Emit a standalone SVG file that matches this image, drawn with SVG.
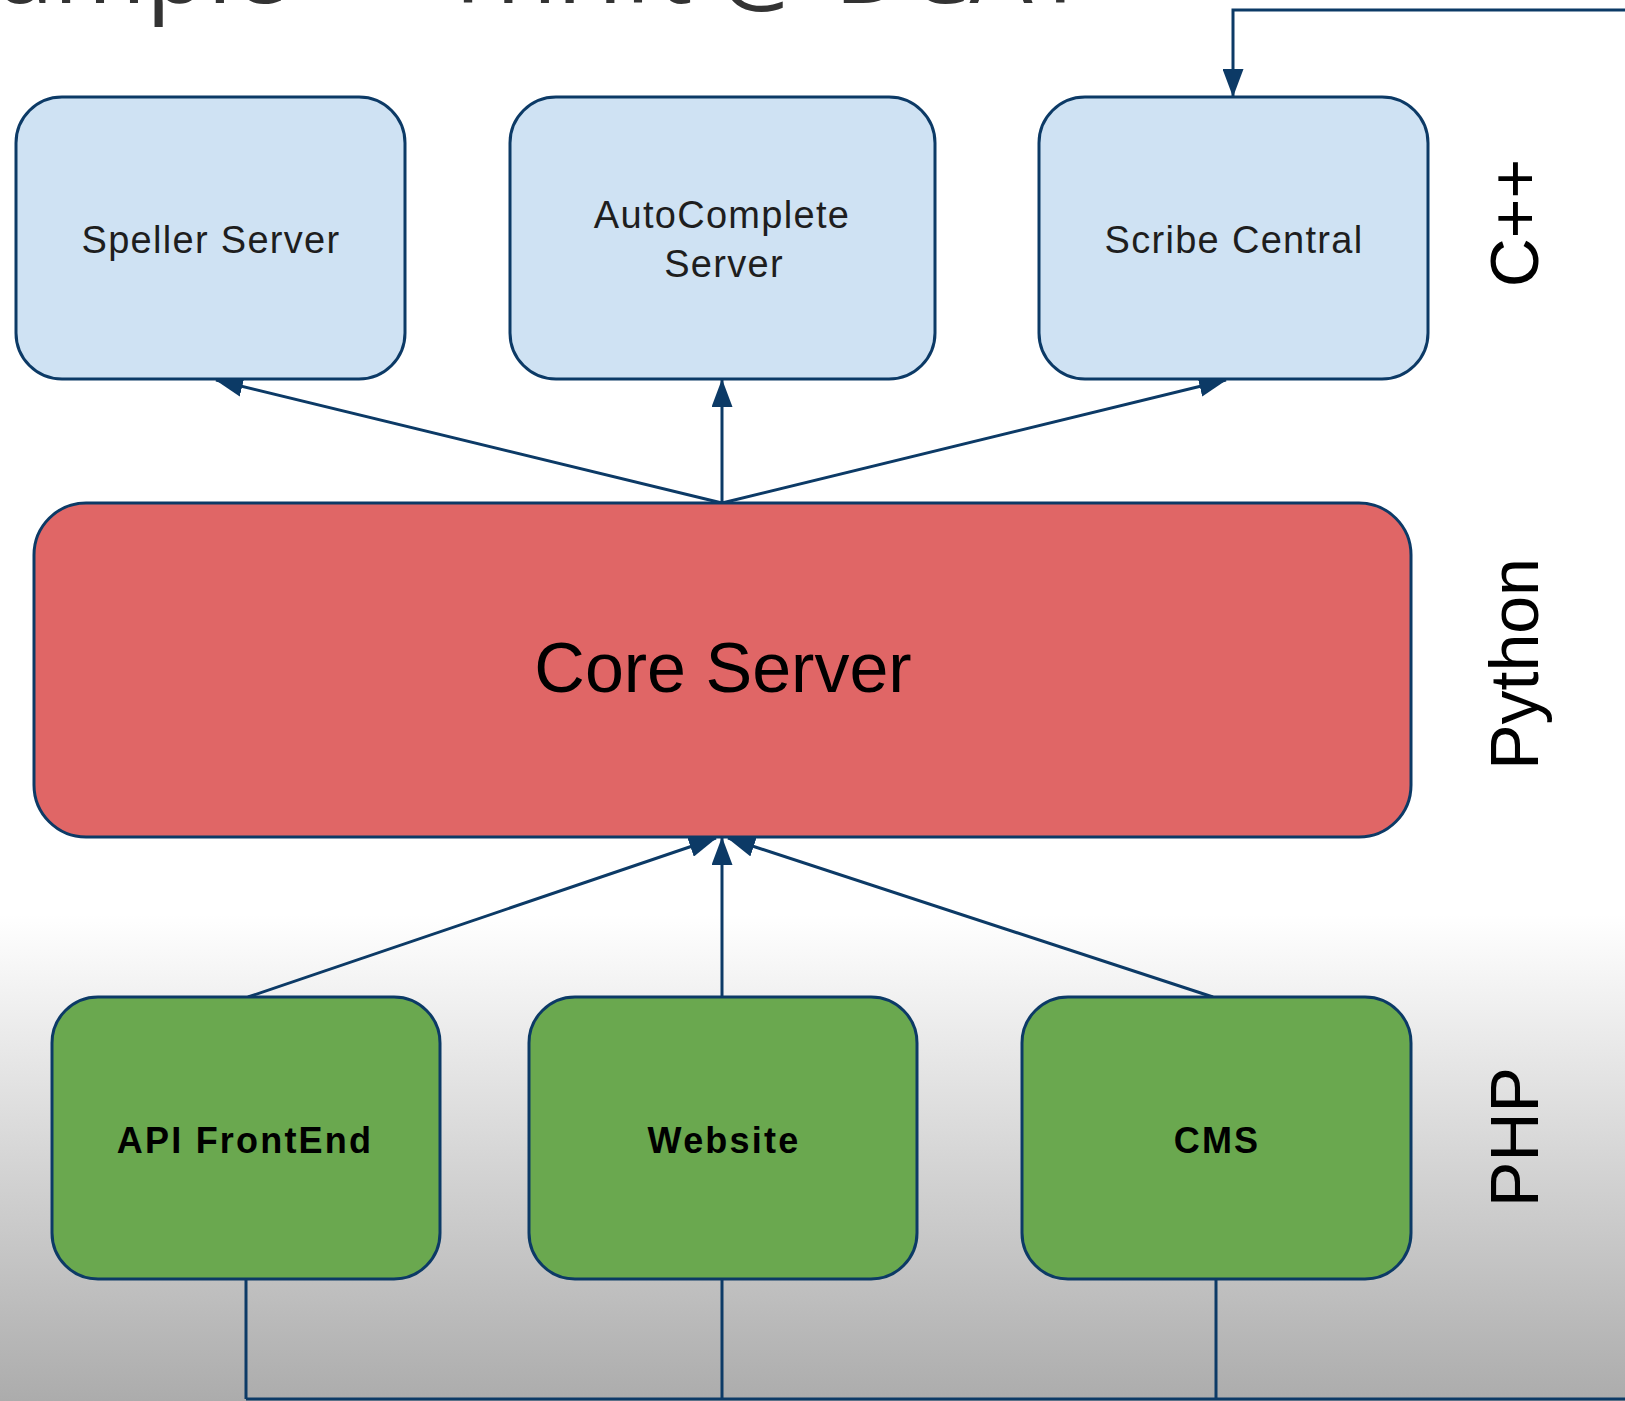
<svg xmlns="http://www.w3.org/2000/svg" width="1625" height="1401" viewBox="0 0 1625 1401">
  <defs>
    <linearGradient id="floor" x1="0" y1="915" x2="0" y2="1401" gradientUnits="userSpaceOnUse">
      <stop offset="0" stop-color="#ffffff"/>
      <stop offset="1" stop-color="#acacac"/>
    </linearGradient>
    <marker id="arrow" markerUnits="userSpaceOnUse" markerWidth="28" markerHeight="21" refX="27" refY="10.5" orient="auto">
      <path d="M0,0 L28,10.5 L0,21 Z" fill="#0c3a66"/>
    </marker>
    <style>
      .box { stroke: #0c3a66; stroke-width: 3; }
      .cpp { fill: #cfe2f3; }
      .py { fill: #e06666; }
      .php { fill: #6aa84f; }
      .lbl { font-family: "Liberation Sans", Arial, sans-serif; font-size: 38px; fill: #1e1e1e; letter-spacing: 1.3px; text-anchor: middle; }
      .bold { font-family: "Liberation Sans", Arial, sans-serif; font-size: 36px; font-weight: bold; fill: #000; letter-spacing: 2.2px; text-anchor: middle; }
      .core { font-family: "Liberation Sans", Arial, sans-serif; font-size: 70px; fill: #000; text-anchor: middle; }
      .lang { font-family: "Liberation Sans", Arial, sans-serif; font-size: 68px; fill: #000; text-anchor: middle; }
      .title { font-family: "Open Sans", "Noto Sans", sans-serif; font-size: 100px; fill: #333333; }
      .wire { fill: none; stroke: #0c3a66; stroke-width: 3; }
    </style>
  </defs>

  <!-- page background with the shaded floor band -->
  <rect x="0" y="0" width="1625" height="1401" fill="#ffffff"/>
  <rect x="0" y="915" width="1625" height="486" fill="url(#floor)"/>

  <!-- slide heading, mostly above the visible area -->
  <text class="title" x="-110" y="3">Example — Thrift @ DCAT</text>

  <!-- connectors -->
  <g id="connectors">
    <path class="wire" d="M1625,10 H1233 V96" marker-end="url(#arrow)"/>
    <line class="wire" x1="722" y1="503" x2="216" y2="380" marker-end="url(#arrow)"/>
    <line class="wire" x1="722" y1="503" x2="722" y2="380" marker-end="url(#arrow)"/>
    <line class="wire" x1="722" y1="503" x2="1226" y2="380" marker-end="url(#arrow)"/>
    <line class="wire" x1="248" y1="997" x2="716" y2="838" marker-end="url(#arrow)"/>
    <line class="wire" x1="722" y1="997" x2="722" y2="838" marker-end="url(#arrow)"/>
    <line class="wire" x1="1213" y1="997" x2="728" y2="838" marker-end="url(#arrow)"/>
    <path class="wire" d="M246,1279 V1399 M722,1279 V1399 M1216,1279 V1399 M246,1399 H1625"/>
  </g>

  <!-- C++ tier -->
  <g id="speller-server">
    <rect class="box cpp" x="16" y="97" width="389" height="282" rx="46" ry="46"/>
    <text class="lbl" x="211" y="253">Speller Server</text>
  </g>
  <g id="autocomplete-server">
    <rect class="box cpp" x="510" y="97" width="425" height="282" rx="46" ry="46"/>
    <text class="lbl" x="722" y="228">AutoComplete</text>
    <text class="lbl" x="724" y="277">Server</text>
  </g>
  <g id="scribe-central">
    <rect class="box cpp" x="1039" y="97" width="389" height="282" rx="46" ry="46"/>
    <text class="lbl" x="1234" y="253">Scribe Central</text>
  </g>

  <!-- Python tier -->
  <g id="core-server">
    <rect class="box py" x="34" y="503" width="1377" height="334" rx="52" ry="52"/>
    <text class="core" x="723" y="692">Core Server</text>
  </g>

  <!-- PHP tier -->
  <g id="api-frontend">
    <rect class="box php" x="52" y="997" width="388" height="282" rx="46" ry="46"/>
    <text class="bold" x="245" y="1153">API FrontEnd</text>
  </g>
  <g id="website">
    <rect class="box php" x="529" y="997" width="388" height="282" rx="46" ry="46"/>
    <text class="bold" x="724" y="1153">Website</text>
  </g>
  <g id="cms">
    <rect class="box php" x="1022" y="997" width="389" height="282" rx="46" ry="46"/>
    <text class="bold" x="1217" y="1153">CMS</text>
  </g>

  <!-- tier language labels -->
  <g id="tier-labels">
    <text class="lang" transform="translate(1538,223) rotate(-90)">C++</text>
    <text class="lang" transform="translate(1538,664) rotate(-90)">Python</text>
    <text class="lang" transform="translate(1538,1137) rotate(-90)">PHP</text>
  </g>
</svg>
